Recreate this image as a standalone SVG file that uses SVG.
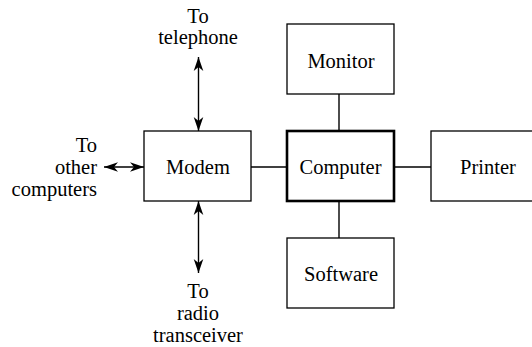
<svg xmlns="http://www.w3.org/2000/svg" width="532" height="347" viewBox="0 0 532 347">
<style>
.box{fill:#fff;stroke:#000;stroke-width:1.3}
.thick{stroke-width:2.6}
.t{font-family:"Liberation Serif","Times New Roman",Times,serif;font-size:20.5px;fill:#000}
.c{text-anchor:middle}
.e{text-anchor:end}
.ln{stroke:#000;stroke-width:1.4;fill:none}
.ar{marker-start:url(#ah);marker-end:url(#ah)}
</style>
<defs>
<marker id="ah" markerUnits="userSpaceOnUse" markerWidth="16" markerHeight="12" viewBox="-15 -6 16 12" refX="0" refY="0" orient="auto-start-reverse">
<path d="M0,0 L-14,-4.8 L-10,0 L-14,4.8 Z" fill="#000"/>
</marker>
</defs>
<rect width="532" height="347" fill="#fff"/>
<g id="connectors">
<line class="ln" x1="339" y1="94" x2="339" y2="131"/>
<line class="ln" x1="339" y1="201" x2="339" y2="238"/>
<line class="ln" x1="251" y1="167" x2="287" y2="167"/>
<line class="ln" x1="394" y1="167" x2="431" y2="167"/>
<line class="ln ar" x1="198.5" y1="57" x2="198.5" y2="131"/>
<line class="ln ar" x1="198.5" y1="201" x2="198.5" y2="273"/>
<line class="ln ar" x1="104" y1="167" x2="144" y2="167"/>
</g>
<g id="modem">
<rect class="box" x="144" y="131" width="107" height="70"/>
<text class="t c" x="198" y="173.5">Modem</text>
</g>
<g id="computer">
<rect class="box thick" x="287" y="131" width="107" height="70"/>
<text class="t c" x="340.5" y="173.5">Computer</text>
</g>
<g id="monitor">
<rect class="box" x="287" y="24" width="107" height="70"/>
<text class="t c" x="341" y="67.5">Monitor</text>
</g>
<g id="software">
<rect class="box" x="287" y="238" width="107" height="70"/>
<text class="t c" x="341" y="281">Software</text>
</g>
<g id="printer">
<rect class="box" x="431" y="131" width="120" height="70"/>
<text class="t c" x="488" y="173.5">Printer</text>
</g>
<g id="label-telephone">
<text class="t c" x="198" y="22.5">To</text>
<text class="t c" x="198" y="43.5">telephone</text>
</g>
<g id="label-computers">
<text class="t e" x="97" y="152">To</text>
<text class="t e" x="97" y="174">other</text>
<text class="t e" x="97" y="196">computers</text>
</g>
<g id="label-radio">
<text class="t c" x="198" y="298">To</text>
<text class="t c" x="198" y="320">radio</text>
<text class="t c" x="198" y="342">transceiver</text>
</g>
</svg>
